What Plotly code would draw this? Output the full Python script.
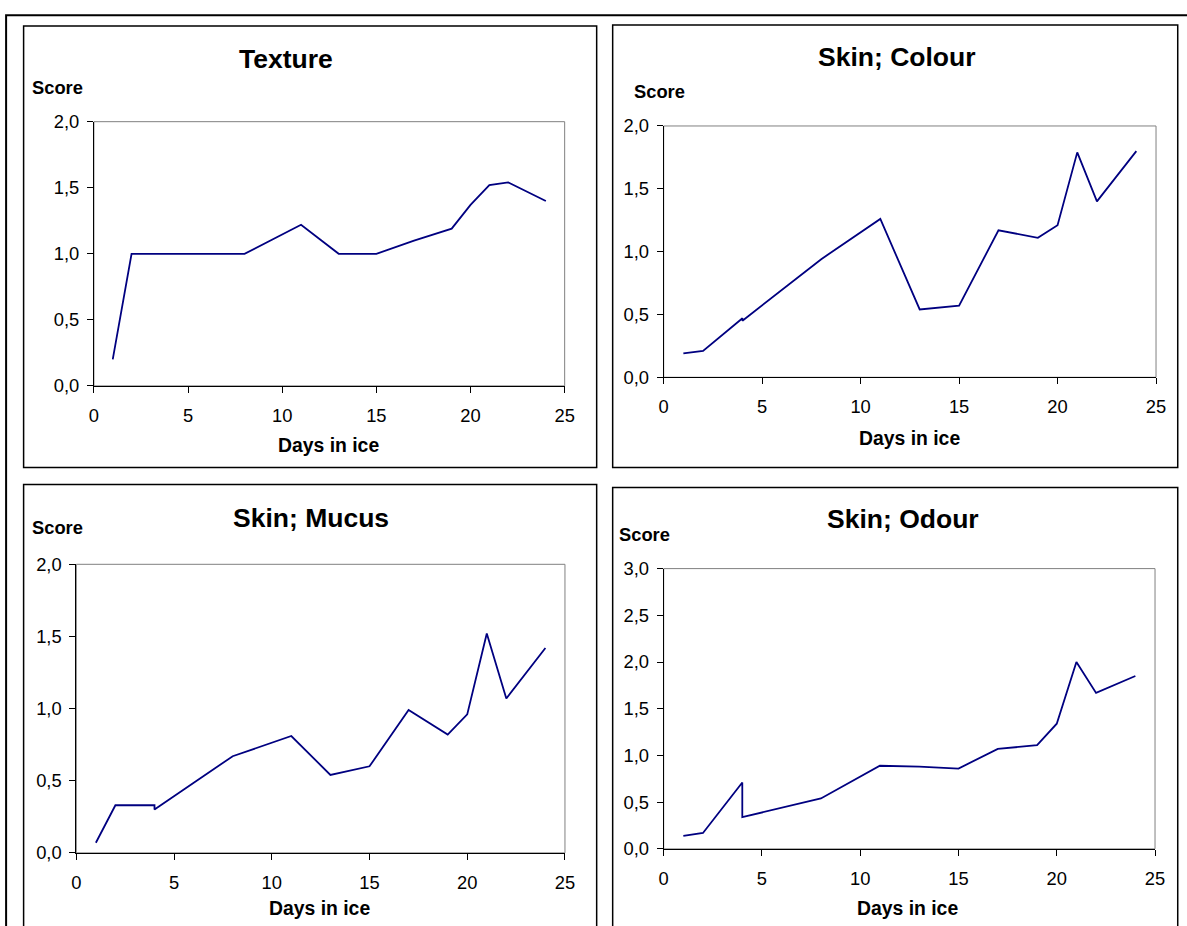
import plotly.graph_objects as go

# Figure size; the page adds an 8px body margin and the captured page is
# shown slightly reduced, so target screen positions are mapped back to
# figure coordinates with KX/KY below.
W, H = 1187, 926
OFF = 8
KX, KY = 0.986, 0.981

# ---- data ----
days = [1, 2, 4, 4, 8, 11, 13, 15, 17, 19, 20, 21, 22, 24]
texture = [0.20, 1.00, 1.00, 1.00, 1.00, 1.22, 1.00, 1.00, 1.10, 1.19, 1.37, 1.52, 1.54, 1.40]
skin_colour = [0.19, 0.21, 0.47, 0.45, 0.94, 1.26, 0.54, 0.57, 1.17, 1.11, 1.21, 1.79, 1.40, 1.80]
skin_mucus = [0.07, 0.33, 0.33, 0.30, 0.67, 0.81, 0.54, 0.60, 0.99, 0.82, 0.96, 1.52, 1.07, 1.42]
skin_odour = [0.14, 0.17, 0.71, 0.34, 0.54, 0.89, 0.88, 0.86, 1.07, 1.11, 1.34, 2.00, 1.67, 1.85]

titles = ["Texture", "Skin; Colour", "Skin; Mucus", "Skin; Odour"]
series = [texture, skin_colour, skin_mucus, skin_odour]
y_max = [2.0, 2.0, 2.0, 3.0]
x_ticks = [0, 5, 10, 15, 20, 25]
x_ticktext = ["0", "5", "10", "15", "20", "25"]

FONT = "Liberation Sans, Arial, sans-serif"
LINE = "#000080"
FS = 1 / KY  # font compensation


def fx(x):
    x = x + 2.5 - 1.5 * (x / 1178)
    return (x / KX - OFF) / W


def fy(y):
    y = y - 2.0 * max(0.0, (900 - y)) / 886
    return 1 - (y / KY - OFF) / H


# plot-area boxes in screen pixels (left, top, right, bottom)
plot_boxes = [
    (94.3, 120.7, 565.0, 385.3),
    (664.0, 125.0, 1156.3, 376.7),
    (76.7, 564.0, 565.3, 853.0),
    (664.0, 568.3, 1155.3, 849.0),
]
panel_boxes = [
    (24, 25, 597, 467),
    (613, 24, 1178, 467),
    (24, 484, 597, 990),
    (613, 487, 1178, 990),
]
title_pos = [(286, 58), (897, 56), (311, 518), (903, 519)]
score_pos = [(30, 86), (632, 90), (30, 527), (617, 534)]
days_pos = [(329, 445), (910, 437), (320, 908), (908, 908)]

fig = go.Figure()
layout = dict(
    width=W, height=H,
    margin=dict(l=0, r=0, t=0, b=0),
    paper_bgcolor="white", plot_bgcolor="white",
    showlegend=False,
    font=dict(family=FONT, color="black"),
)
shapes = []
annotations = []

# outer frame (top and left edges visible)
shapes.append(dict(type="rect", xref="paper", yref="paper",
                   x0=fx(6.5), x1=fx(1230), y0=fy(14), y1=fy(990),
                   line=dict(color="black", width=2), layer="below"))

for i in range(4):
    n = "" if i == 0 else str(i + 1)
    l, t, r, b = plot_boxes[i]
    ymax = y_max[i]
    yt = [k * 0.5 for k in range(int(ymax / 0.5) + 1)]
    ytt = [f"{v:.1f}".replace(".", ",") for v in yt]

    fig.add_trace(go.Scatter(
        x=days, y=series[i], mode="lines",
        line=dict(color=LINE, width=1.8),
        xaxis="x" + n, yaxis="y" + n, hoverinfo="x+y",
    ))

    layout["xaxis" + n] = dict(
        domain=[fx(l), fx(r)], anchor="y" + n, range=[0, 25],
        tickvals=x_ticks, ticktext=x_ticktext,
        showgrid=False, zeroline=False, showline=True,
        linecolor="black", linewidth=1,
        ticks="outside", ticklen=6, tickcolor="black", tickwidth=1,
        tickfont=dict(size=18 * FS, family=FONT, color="black"),
        ticklabelstandoff=7,
    )
    layout["yaxis" + n] = dict(
        domain=[fy(b), fy(t)], anchor="x" + n, range=[0, ymax],
        tickvals=yt, ticktext=ytt,
        showgrid=False, zeroline=False, showline=True,
        linecolor="black", linewidth=1,
        ticks="outside", ticklen=6, tickcolor="black", tickwidth=1,
        tickfont=dict(size=18 * FS, family=FONT, color="black"),
        ticklabelstandoff=4,
    )

    pl, pt, pr, pb = panel_boxes[i]
    shapes.append(dict(type="rect", xref="paper", yref="paper",
                       x0=fx(pl), x1=fx(pr), y0=fy(pb), y1=fy(pt),
                       line=dict(color="black", width=1.5), layer="below"))
    shapes.append(dict(type="rect", xref="paper", yref="paper",
                       x0=fx(l), x1=fx(r), y0=fy(b), y1=fy(t),
                       line=dict(color="#808080", width=1), layer="below"))

    tx, ty = title_pos[i]
    annotations.append(dict(text=f"<b>{titles[i]}</b>", x=fx(tx), y=fy(ty),
                            xref="paper", yref="paper", showarrow=False,
                            xanchor="center", yanchor="middle",
                            font=dict(size=26 * FS, family=FONT, color="black")))
    sx, sy = score_pos[i]
    annotations.append(dict(text="<b>Score</b>", x=fx(sx), y=fy(sy),
                            xref="paper", yref="paper", showarrow=False,
                            xanchor="left", yanchor="middle",
                            font=dict(size=18 * FS, family=FONT, color="black")))
    dx, dy = days_pos[i]
    annotations.append(dict(text="<b>Days in ice</b>", x=fx(dx), y=fy(dy),
                            xref="paper", yref="paper", showarrow=False,
                            xanchor="center", yanchor="middle",
                            font=dict(size=19 * FS, family=FONT, color="black")))

layout["shapes"] = shapes
layout["annotations"] = annotations
fig.update_layout(**layout)
fig.write_html("out.html")
